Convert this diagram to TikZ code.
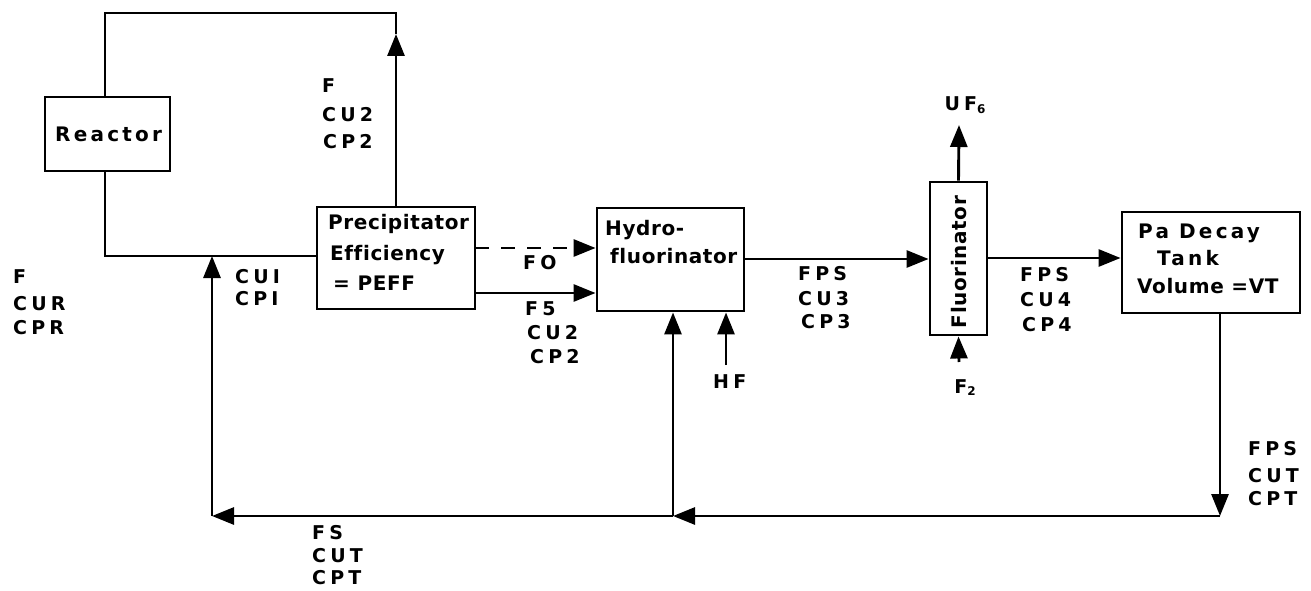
\documentclass[tikz,border=0pt]{standalone}
\usepackage{fontspec}
\usetikzlibrary{arrows.meta}
\newfontfamily\boxfont{DejaVu Sans}[LetterSpace=3,Ligatures=NoCommon]
\newfontfamily\wideboxfont{DejaVu Sans}[LetterSpace=16,Ligatures=NoCommon]
\newfontfamily\lblfont{DejaVu Sans}[LetterSpace=22]
\tikzset{
  blk/.style={draw, line width=2.9pt, inner sep=0pt},
  flow/.style={line width=2.9pt},
  arr/.style={-{Triangle[length=22pt,width=17pt]}},
  dsh/.style={dash pattern=on 14pt off 12pt},
  lbl/.style={font=\lblfont\bfseries\fontsize{19}{22}\selectfont, anchor=west, inner sep=0pt},
  btxt/.style={font=\boxfont\bfseries\fontsize{20}{23}\selectfont, anchor=base west, inner sep=0pt},
  wbtxt/.style={font=\wideboxfont\bfseries\fontsize{20}{23}\selectfont, anchor=base west, inner sep=0pt},
  sub/.style={font=\lblfont\bfseries\fontsize{19}{22}\selectfont, anchor=base, inner sep=0pt}
}
\newcommand{\smallsub}[1]{\raisebox{-2pt}{\fontsize{12}{12}\selectfont #1}}
\begin{document}
\begin{tikzpicture}[x=1pt,y=-1pt]
\useasboundingbox (0,0) rectangle (1311,591);
% boxes
\node[blk, minimum width=125pt, minimum height=74pt] (reactor) at (107.5,134) {};
\node[blk, minimum width=158pt, minimum height=102pt] (prec) at (396,258) {};
\node[blk, minimum width=147pt, minimum height=103pt] (hydro) at (670.5,259.5) {};
\node[blk, minimum width=57pt, minimum height=153pt] (fluor) at (958.5,258.5) {};
\node[blk, minimum width=178pt, minimum height=101pt] (pa) at (1211,262.5) {};
% box texts
\node[wbtxt] (treactor) at (55,142) {Reactor};
\node[btxt] (tprec1) at (328,229) {Precipitator};
\node[btxt] (tprec2) at (330,260) {Efficiency};
\node[btxt] (tprec3) at (333,290) {= PEFF};
\node[btxt] (thyd1) at (605,235) {Hydro-};
\node[btxt] (thyd2) at (610,263) {fluorinator};
\node[font=\boxfont\bfseries\fontsize{20}{23}\selectfont, rotate=90, inner sep=0pt] (tfluor) at (959,262) {Fluorinator};
\node[wbtxt] (tpa1) at (1138,238) {Pa Decay};
\node[wbtxt] (tpa2) at (1157,265) {Tank};
\node[btxt] (tpa3) at (1137,293) {Volume =VT};
% coordinates
\coordinate (tl) at (105,13);
\coordinate (tr) at (396,13);
\coordinate (ta) at (396,34);
\coordinate (rb) at (105,256);
\coordinate (j1) at (212,256);
\coordinate (br) at (1220,516);
\coordinate (bm) at (673,516);
\coordinate (bl) at (212,516);
\coordinate (hf) at (726,365);
\coordinate (d1) at (475,248);
\coordinate (s1) at (475,293);
\coordinate (h1) at (744,259);
\coordinate (uf) at (959,125);
\coordinate (f2) at (959,362);
\coordinate (fp) at (987,258);
% connectors
\draw[flow,arr] (prec.north) -- (ta);
\draw[flow] (ta) -- (tr) -- (tl) -- (tl |- reactor.north);
\draw[flow] (tl |- reactor.south) -- (rb) -- (rb -| prec.west);
\draw[flow,arr] (br |- pa.south) -- (br);
\draw[flow,arr] (br) -- (bm);
\draw[flow,arr] (bm) -- (bl);
\draw[flow,arr] (bl) -- (j1);
\draw[flow,arr] (bm) -- (bm |- hydro.south);
\draw[flow,arr] (hf) -- (hf |- hydro.south);
\draw[flow,arr,dsh] (d1) -- (d1 -| hydro.west);
\draw[flow,arr] (s1) -- (s1 -| hydro.west);
\draw[flow,arr] (h1) -- (h1 -| fluor.west);
\draw[flow,arr] (fluor.north) -- (uf);
\draw[flow,arr] (f2) -- (fluor.south);
\draw[flow,arr] (fp) -- (fp -| pa.west);
% labels
\node[lbl] (la1) at (322,86) {F};
\node[lbl] (la2) at (322,115) {CU2};
\node[lbl] (la3) at (323,142) {CP2};
\node[lbl] (lb1) at (13,277) {F};
\node[lbl] (lb2) at (13,304) {CUR};
\node[lbl] (lb3) at (13,328) {CPR};
\node[lbl] (lc1) at (235,277) {CUI};
\node[lbl] (lc2) at (235,299) {CPI};
\node[lbl] (lfo) at (523,263) {FO};
\node[lbl] (ld1) at (525,309) {F5};
\node[lbl] (ld2) at (527,333) {CU2};
\node[lbl] (ld3) at (530,357) {CP2};
\node[lbl] (le1) at (798,274) {FPS};
\node[lbl] (le2) at (798,299) {CU3};
\node[lbl] (le3) at (801,322) {CP3};
\node[lbl] (lf1) at (1020,275) {FPS};
\node[lbl] (lf2) at (1020,300) {CU4};
\node[lbl] (lf3) at (1022,325) {CP4};
\node[lbl] (lg1) at (1248,449) {FPS};
\node[lbl] (lg2) at (1248,476) {CUT};
\node[lbl] (lg3) at (1248,499) {CPT};
\node[lbl] (lh1) at (312,533) {FS};
\node[lbl] (lh2) at (312,556) {CUT};
\node[lbl] (lh3) at (312,578) {CPT};
\node[lbl] (lhf) at (713,382) {HF};
\node[sub] (lf2b) at (965,393) {F\smallsub{2}};
\node[sub] (luf) at (965,111) {UF\smallsub{6}};
\end{tikzpicture}
\end{document}
